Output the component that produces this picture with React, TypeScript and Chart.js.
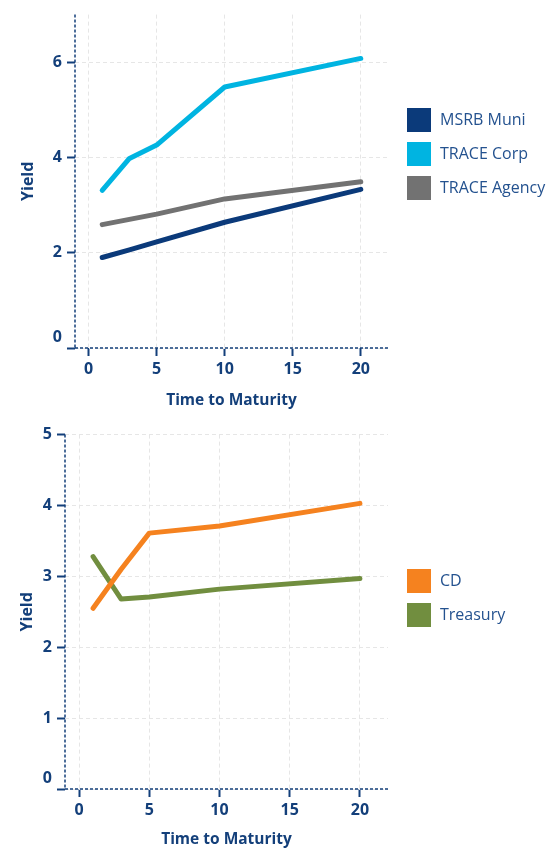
import React, { useEffect, useRef } from "react";
import { Chart, registerables } from "chart.js";
Chart.register(...registerables);

const maturities = [1, 3, 5, 10, 20];
const msrbMuni = [1.9, 2.06, 2.23, 2.64, 3.33];
const traceCorp = [3.31, 3.98, 4.26, 5.48, 6.08];
const traceAgency = [2.59, 2.7, 2.81, 3.13, 3.49];
const cdYield = [2.55, 3.1, 3.61, 3.71, 4.03];
const treasuryYield = [3.28, 2.68, 2.71, 2.82, 2.97];

const xTicks = [0, 5, 10, 15, 20];
const yTicksTop = [0, 2, 4, 6];
const yTicksBottom = [0, 1, 2, 3, 4, 5];

const NAVY = "#133f7a";
const LEGEND_TEXT = "#24528f";
const GRID = "#e6e6e6";
const FONT = "'Open Sans', sans-serif";

const decorPlugin = {
  id: "decor",
  afterDraw(chart: any, _args: any, opts: any) {
    const { ctx, chartArea: a } = chart;
    ctx.save();
    ctx.strokeStyle = NAVY;
    ctx.lineWidth = 1.5;
    ctx.setLineDash([3, 2]);
    ctx.beginPath();
    ctx.moveTo(a.left, a.top);
    ctx.lineTo(a.left, a.bottom);
    ctx.moveTo(a.left, a.bottom);
    ctx.lineTo(a.right, a.bottom);
    ctx.stroke();
    ctx.setLineDash([]);
    // shifted zero label
    const y0 = chart.scales.y.getPixelForValue(0) - 11;
    ctx.fillStyle = NAVY;
    ctx.font = `bold 16px ${FONT}`;
    ctx.textAlign = "right";
    ctx.textBaseline = "middle";
    ctx.fillText("0", a.left - 13, y0);
    // legend
    ctx.textAlign = "left";
    ctx.font = `16px ${FONT}`;
    chart.data.datasets.forEach((ds: any, i: number) => {
      const top = opts.top + i * 34;
      ctx.fillStyle = ds.borderColor;
      ctx.fillRect(407, top, 24, 24);
      ctx.fillStyle = LEGEND_TEXT;
      ctx.fillText(ds.label, 440, top + 12);
    });
    ctx.restore();
  },
};

function makeDataset(label: string, ys: number[], color: string) {
  return {
    label,
    data: maturities.map((x, i) => ({ x, y: ys[i] })),
    borderColor: color,
    backgroundColor: color,
    borderWidth: 5,
    borderCapStyle: "round",
    borderJoinStyle: "round",
    pointRadius: 0,
    tension: 0,
    fill: false,
  };
}

function makeConfig(
  datasets: any[],
  yMax: number,
  yTicks: number[],
  padTop: number,
  yAxisWidth: number,
  yTitlePad: number,
  xAxisHeight: number,
  xTitlePadBottom: number,
  legendTop: number
): any {
  return {
    type: "line",
    data: { datasets },
    plugins: [decorPlugin],
    options: {
      responsive: false,
      animation: false,
      events: [],
      layout: { padding: { top: padTop, right: 160, left: 0, bottom: 0 } },
      plugins: {
        legend: { display: false },
        tooltip: { enabled: false },
        decor: { top: legendTop },
      },
      scales: {
        x: {
          type: "linear",
          min: -1,
          max: 22,
          afterBuildTicks: (s: any) => {
            s.ticks = xTicks.map((v) => ({ value: v }));
          },
          afterFit: (s: any) => {
            s.height = xAxisHeight;
          },
          grid: {
            color: GRID,
            lineWidth: 1,
            drawTicks: true,
            tickLength: 8,
            tickColor: NAVY,
            tickWidth: 2,
          },
          border: { display: false, dash: [4, 3] },
          ticks: {
            color: NAVY,
            font: { family: FONT, size: 16, weight: "bold" },
            padding: 4,
            maxRotation: 0,
          },
          title: {
            display: true,
            text: "Time to Maturity",
            color: NAVY,
            font: { family: FONT, size: 15.5, weight: "bold" },
            padding: { top: 0, bottom: xTitlePadBottom },
          },
        },
        y: {
          type: "linear",
          min: 0,
          max: yMax,
          afterBuildTicks: (s: any) => {
            s.ticks = yTicks.map((v) => ({ value: v }));
          },
          afterFit: (s: any) => {
            s.width = yAxisWidth;
          },
          grid: {
            color: GRID,
            lineWidth: 1,
            drawTicks: true,
            tickLength: 8,
            tickColor: NAVY,
            tickWidth: 2,
          },
          border: { display: false, dash: [4, 3] },
          ticks: {
            color: (c: any) =>
              c.tick && c.tick.value === 0 ? "rgba(0,0,0,0)" : NAVY,
            font: { family: FONT, size: 16, weight: "bold" },
            padding: 5,
          },
          title: {
            display: true,
            text: "Yield",
            color: NAVY,
            font: { family: FONT, size: 16, weight: "bold" },
            padding: { top: yTitlePad, bottom: 0 },
          },
        },
      },
    },
  };
}

function ChartCanvas({ config, width, height }: { config: any; width: number; height: number }) {
  const ref = useRef<HTMLCanvasElement | null>(null);
  useEffect(() => {
    if (!ref.current) return;
    const chart = new Chart(ref.current, config);
    return () => chart.destroy();
  }, [config]);
  return (
    <canvas
      ref={ref}
      width={width}
      height={height}
      style={{ display: "block", width, height }}
    />
  );
}

const topConfig = makeConfig(
  [
    makeDataset("MSRB Muni", msrbMuni, "#0b3a7a"),
    makeDataset("TRACE Corp", traceCorp, "#00b4e1"),
    makeDataset("TRACE Agency", traceAgency, "#727272"),
  ],
  7,
  yTicksTop,
  8,
  75,
  19,
  72,
  10,
  108
);

const bottomConfig = makeConfig(
  [
    makeDataset("CD", cdYield, "#f5821f"),
    makeDataset("Treasury", treasuryYield, "#718e3f"),
  ],
  5,
  yTicksBottom,
  14,
  65,
  18,
  60,
  0,
  149
);

export default function App() {
  return (
    <div
      style={{
        position: "absolute",
        left: 0,
        top: 0,
        width: 548,
        height: 849,
        background: "#ffffff",
        overflow: "hidden",
      }}
    >
      <ChartCanvas config={topConfig} width={548} height={420} />
      <ChartCanvas config={bottomConfig} width={548} height={429} />
    </div>
  );
}
